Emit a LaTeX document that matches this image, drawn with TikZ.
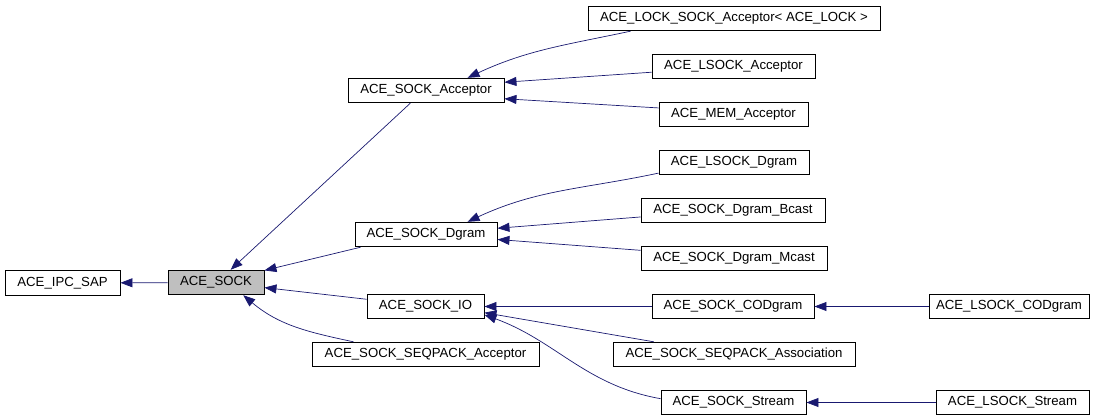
\documentclass[tikz,border=0pt]{standalone}
\usepackage{fontspec}
\setmainfont{Liberation Sans}
\usetikzlibrary{arrows.meta}
\definecolor{edgeblue}{RGB}{25,25,112}
\definecolor{basegray}{RGB}{191,191,191}

\begin{document}
\begin{tikzpicture}[x=1pt,y=-1pt,
	cls/.style={shape=rectangle,draw=black,line width=0.9pt,minimum height=24.5pt,inner sep=0pt,font=\fontsize{13.2}{15}\selectfont},
	inh/.style={color=edgeblue,line width=0.7pt,->},
	>={Triangle[length=12pt,width=9pt]}]
	\useasboundingbox (0,0) rectangle (1104,419);

	\node[cls,minimum width=115pt] (ipc) at (62.5,283) {ACE\_IPC\_SAP};
	\node[cls,minimum width=96pt,fill=basegray] (sock) at (216,282.5) {ACE\_SOCK};
	\node[cls,minimum width=156pt] (acc) at (426,90.5) {ACE\_SOCK\_Acceptor};
	\node[cls,minimum width=142pt] (dgram) at (426,234.5) {ACE\_SOCK\_Dgram};
	\node[cls,minimum width=117pt] (io) at (425.5,306.5) {ACE\_SOCK\_IO};
	\node[cls,minimum width=227pt] (seqacc) at (425.5,354.5) {ACE\_SOCK\_SEQPACK\_Acceptor};
	\node[cls,minimum width=292pt] (lockacc) at (734,18.5) {ACE\_LOCK\_SOCK\_Acceptor< ACE\_LOCK >};
	\node[cls,minimum width=163pt] (lsockacc) at (733.5,66.5) {ACE\_LSOCK\_Acceptor};
	\node[cls,minimum width=149pt] (memacc) at (733.5,114.5) {ACE\_MEM\_Acceptor};
	\node[cls,minimum width=150pt] (lsockdg) at (734,162.5) {ACE\_LSOCK\_Dgram};
	\node[cls,minimum width=184pt] (bcast) at (733,210.5) {ACE\_SOCK\_Dgram\_Bcast};
	\node[cls,minimum width=186pt] (mcast) at (734,258.5) {ACE\_SOCK\_Dgram\_Mcast};
	\node[cls,minimum width=162pt] (codgram) at (733,306.5) {ACE\_SOCK\_CODgram};
	\node[cls,minimum width=242pt] (assoc) at (734,354.5) {ACE\_SOCK\_SEQPACK\_Association};
	\node[cls,minimum width=145pt] (stream) at (733.5,402.5) {ACE\_SOCK\_Stream};
	\node[cls,minimum width=160pt] (lcodgram) at (1009,306.5) {ACE\_LSOCK\_CODgram};
	\node[cls,minimum width=153pt] (lstream) at (1012.5,402.5) {ACE\_LSOCK\_Stream};

	\path [inh](sock) edge (ipc);
	\path [inh](acc.219) edge (sock.41);
	\path [inh](dgram.191) edge (sock.14);
	\path [inh](io.173) edge (sock.354);
	\path [inh](seqacc.170) edge[out=168,in=-40] (sock.335);
	\path [inh](lockacc.187) edge[out=192,in=25] (acc.17);
	\path [inh](lsockacc.184) edge (acc.6);
	\path [inh](memacc.175) edge (acc.354);
	\path [inh](lsockdg.188) edge[out=192,in=25] (dgram.17);
	\path [inh](bcast.184) edge (dgram.5);
	\path [inh](mcast.175) edge (dgram.356);
	\path [inh](codgram) edge (io);
	\path [inh](assoc.171) edge (io.354);
	\path [inh](stream.177) edge[out=170,in=-20] (io.352);
	\path [inh](lcodgram) edge (codgram);
	\path [inh](lstream) edge (stream);
\end{tikzpicture}
\end{document}
